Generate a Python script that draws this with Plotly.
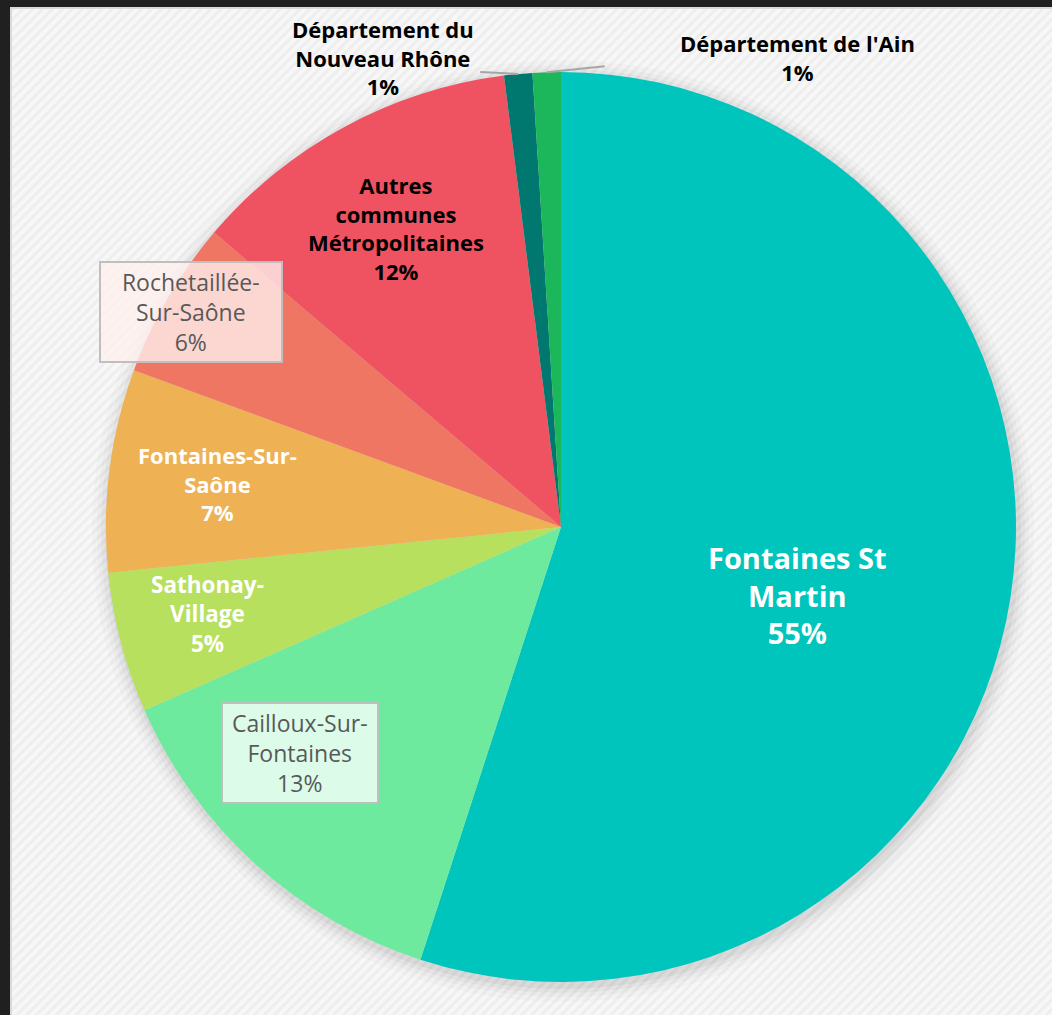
import math, base64
import plotly.graph_objects as go

# ---- data ----
labels = ["Fontaines St Martin", "Cailloux-Sur-Fontaines", "Sathonay-Village",
          "Fontaines-Sur-Saône", "Rochetaillée-Sur-Saône",
          "Autres communes Métropolitaines", "Département du Nouveau Rhône",
          "Département de l'Ain"]
values = [55, 13.4, 5, 7.2, 5.6, 11.8, 1, 1]
label_lines = ["Fontaines St<br>Martin", "Cailloux-Sur-<br>Fontaines", "Sathonay-<br>Village",
               "Fontaines-Sur-<br>Saône", "Rochetaillée-<br>Sur-Saône",
               "Autres<br>communes<br>Métropolitaines", "Département du<br>Nouveau Rhône",
               "Département de l'Ain"]
colors = ["#00C5BC", "#6EEA9F", "#B7E05E", "#EEB153", "#EF7662", "#EF5361", "#00776F", "#1DB75B"]

# ---- label styling ----
label_r = [0.54, 0.76, 0.80, 0.76, 0.94, 0.75, None, None]
label_shift = [7, 7, 1, 0, 0, -0.4, 0, 0]
font_size = [29, 23, 22.5, 22, 23, 22, 22, 22]
font_color = ["white", "#595959", "white", "white", "#595959", "black", "black", "black"]
bold = [True, False, True, True, False, True, True, True]
boxed = [False, True, False, False, True, False, False, False]
box_side_pad = [0, 1, 0, 0, 3, 0, 0, 0]   # non-breaking spaces each side
box_bg = [None, "rgba(240,255,246,0.85)", None, None, "rgba(255,240,238,0.8)", None, None, None]
# outside labels: (label dx, dy, line-end dx, dy) in px from rim point
outside = {6: (-135, -17, -38, -2), 7: (251, -15, 58, -6)}

W, H = 1052, 1015
CX, CY, R = 561, 527, 455
FONT = "Open Sans, sans-serif"

def px(x, y):
    return x / W, 1 - y / H

fig = go.Figure()
fig.add_trace(go.Pie(
    labels=labels, values=values, sort=False, direction="clockwise", rotation=0,
    marker=dict(colors=colors, line=dict(width=0)),
    textinfo="none", hoverinfo="label+percent", showlegend=False,
    domain=dict(x=[(CX - R) / W, (CX + R) / W], y=[(H - CY - R) / H, (H - CY + R) / H]),
))

total = sum(values)
cum = 0
annotations = []
shapes = []
for i, v in enumerate(values):
    pct = round(100 * v / total)
    mid = (cum + v / 2) / total * 360
    cum += v
    lines = (label_lines[i] + f"<br>{pct}%").split("<br>")
    if bold[i]:
        lines = [f"<b>{l}</b>" for l in lines]
    if boxed[i]:
        padn = "&nbsp;" * box_side_pad[i]
        lines = [padn + l + padn for l in lines]
    txt = "<br>".join(lines)
    font = dict(family=FONT, size=font_size[i], color=font_color[i])
    if i in outside:
        rx = CX + R * math.sin(math.radians(mid))
        ry = CY - R * math.cos(math.radians(mid))
        ldx, ldy, ex, ey = outside[i]
        x0, y0 = px(rx, ry)
        x1, y1 = px(rx + ex, ry + ey)
        shapes.append(dict(type="line", xref="paper", yref="paper", x0=x0, y0=y0, x1=x1, y1=y1,
                           line=dict(color="#A6A6A6", width=2)))
        ax, ay = px(rx + ldx, ry + ldy)
    else:
        th = math.radians(mid + label_shift[i])
        ax, ay = px(CX + label_r[i] * R * math.sin(th), CY - label_r[i] * R * math.cos(th))
    a = dict(x=ax, y=ay, xref="paper", yref="paper", text=txt, showarrow=False,
             font=font, align="center", xanchor="center", yanchor="middle")
    if boxed[i]:
        a.update(bgcolor=box_bg[i], bordercolor="#BFBFBF", borderwidth=2, borderpad=3)
    annotations.append(a)

# soft shadow around pie
for k, op in [(16, 0.02), (11, 0.025), (7, 0.03), (3, 0.04)]:
    x0, y1 = px(CX - R - k + 2, CY - R - k + 4)
    x1, y0 = px(CX + R + k + 2, CY + R + k + 4)
    shapes.insert(0, dict(type="circle", xref="paper", yref="paper", x0=x0, x1=x1, y0=y0, y1=y1,
                          fillcolor=f"rgba(0,0,0,{op})", line=dict(width=0), layer="below"))

# frame
shapes.append(dict(type="rect", xref="paper", yref="paper", x0=0, x1=1, y0=1 - 7 / H, y1=1,
                   fillcolor="#202020", line=dict(width=0)))
shapes.append(dict(type="rect", xref="paper", yref="paper", x0=0, x1=10 / W, y0=0, y1=1,
                   fillcolor="#202020", line=dict(width=0)))
shapes.append(dict(type="line", xref="paper", yref="paper", x0=10 / W, x1=1, y0=1 - 8 / H, y1=1 - 8 / H,
                   line=dict(color="#DADADA", width=2)))
shapes.append(dict(type="line", xref="paper", yref="paper", x0=11 / W, x1=11 / W, y0=0, y1=1 - 7 / H,
                   line=dict(color="#DADADA", width=2)))

# hatched background via svg pattern
svg = f'''<svg xmlns="http://www.w3.org/2000/svg" width="{W}" height="{H}">
<defs><pattern id="p" width="7" height="7" patternUnits="userSpaceOnUse" patternTransform="rotate(45)">
<rect width="7" height="7" fill="#F7F7F7"/><rect width="3" height="7" fill="#EEEEEE"/></pattern></defs>
<rect width="{W}" height="{H}" fill="url(#p)"/></svg>'''
src = "data:image/svg+xml;base64," + base64.b64encode(svg.encode()).decode()

fig.update_layout(
    width=W, height=H, margin=dict(l=0, r=0, t=0, b=0),
    paper_bgcolor="#F4F4F4", plot_bgcolor="#F4F4F4",
    annotations=annotations, shapes=shapes,
    images=[dict(source=src, xref="paper", yref="paper", x=0, y=1, sizex=1, sizey=1,
                 sizing="stretch", layer="below", xanchor="left", yanchor="top")],
)

fig.write_html("out.html", config={"displayModeBar": False},
               post_script="document.body.style.margin='0';document.body.style.overflow='hidden';")
